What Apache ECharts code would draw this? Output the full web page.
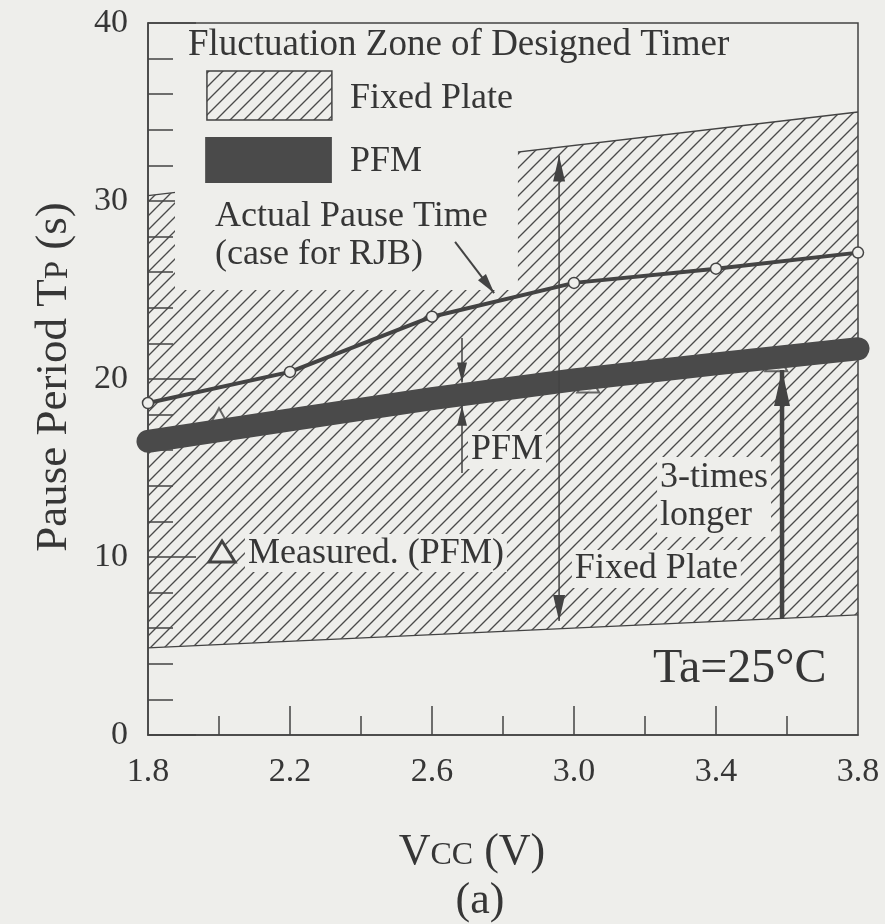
<!DOCTYPE html>
<html>
<head>
<meta charset="utf-8">
<script src="https://cdn.jsdelivr.net/npm/echarts@6/dist/echarts.min.js"></script>
<style>
  html, body { margin: 0; padding: 0; background: #eeeeeb; }
  #chart { width: 885px; height: 924px; }
</style>
</head>
<body>
<div id="chart"></div>
<script>
// Supply voltage points (V) and pause periods (s)
const vccPoints = [1.8, 2.2, 2.6, 3.0, 3.4, 3.8];
const actualPauseTime = [18.65, 20.4, 23.5, 25.4, 26.2, 27.1];
const pfmBand = [16.5, 17.7, 18.9, 19.95, 20.85, 21.7];

// Measured PFM points (triangles)
const measuredVcc = [2.0, 3.04, 3.57];
const measuredPfm = [17.8, 19.8, 21.0];

// Fixed-plate fluctuation zone, lower and upper bounds
const zoneVcc = [1.8, 3.8];
const zoneLower = [4.9, 6.75];
const zoneUpper = [30.3, 35.0];

// Axis ticks
const xLabelTicks = [1.8, 2.2, 2.6, 3.0, 3.4, 3.8];
const xMajorTicks = [2.2, 2.6, 3.0, 3.4];
const xMinorTicks = [2.0, 2.4, 2.8, 3.2, 3.6];

const BG = '#eeeeeb';
const INK = '#434343';
const TEXT = '#363636';
const BAND = '#4a4a4a';
const SERIF = '"Liberation Serif", "Times New Roman", serif';

function hatchCanvas(step, color, width) {
  const c = document.createElement('canvas');
  c.width = step; c.height = step;
  const g = c.getContext('2d');
  g.strokeStyle = color;
  g.lineWidth = width;
  g.beginPath();
  g.moveTo(0, step); g.lineTo(step, 0);
  g.moveTo(-step / 2, step / 2); g.lineTo(step / 2, -step / 2);
  g.moveTo(step / 2, step * 1.5); g.lineTo(step * 1.5, step / 2);
  g.stroke();
  return c;
}
const hatch = hatchCanvas(14, '#4a4a4a', 1.35);
const hatchFill = { image: hatch, repeat: 'repeat' };

const chart = echarts.init(document.getElementById('chart'), null, { renderer: 'canvas' });

const option = {
  backgroundColor: BG,
  animation: false,
  grid: {
    left: 148, right: 27, top: 23, bottom: 189,
    show: true, borderColor: INK, borderWidth: 1.5, backgroundColor: 'transparent'
  },
  xAxis: {
    type: 'value', min: 1.8, max: 3.8,
    axisLine: { show: true, lineStyle: { color: INK, width: 1.5 } },
    axisTick: { show: true, inside: true, length: 29, customValues: xMajorTicks,
                lineStyle: { color: INK, width: 1.5 } },
    axisLabel: { customValues: xLabelTicks, formatter: v => v.toFixed(1),
                 margin: 20, fontSize: 34, fontFamily: SERIF, color: TEXT },
    splitLine: { show: false }
  },
  yAxis: {
    type: 'value', min: 0, max: 40, interval: 10,
    axisLine: { show: true, lineStyle: { color: INK, width: 1.5 } },
    axisTick: { show: true, inside: true, length: 48, lineStyle: { color: INK, width: 1.5 } },
    minorTick: { show: true, splitNumber: 5, length: 25, lineStyle: { color: INK, width: 1.5 } },
    axisLabel: { margin: 20, fontSize: 34, fontFamily: SERIF, color: TEXT },
    splitLine: { show: false }
  },
  series: [
    {
      // hatched fixed-plate zone
      type: 'custom', z: 1, silent: true,
      data: [[zoneVcc[0], zoneLower[0]]],
      encode: { x: 0, y: 1 },
      renderItem: (params, api) => {
        const lower = zoneVcc.map((v, i) => api.coord([v, zoneLower[i]]));
        const upper = zoneVcc.map((v, i) => api.coord([v, zoneUpper[i]]));
        return {
          type: 'group',
          children: [
            { type: 'polygon', shape: { points: lower.concat(upper.slice().reverse()) },
              style: { fill: hatchFill } },
            { type: 'polyline', shape: { points: lower },
              style: { stroke: INK, lineWidth: 1.3, fill: null } },
            { type: 'polyline', shape: { points: upper },
              style: { stroke: INK, lineWidth: 1.3, fill: null } }
          ]
        };
      }
    },
    {
      // clear panel behind the legend
      type: 'custom', z: 2, silent: true,
      data: [[1.876, 40]],
      encode: { x: 0, y: 1 },
      renderItem: (params, api) => {
        const a = api.coord([1.876, 40]);
        const b = api.coord([2.842, 25]);
        return { type: 'rect', shape: { x: a[0], y: a[1] + 1, width: b[0] - a[0], height: b[1] - a[1] - 1 },
                 style: { fill: BG } };
      }
    },
    {
      // short ticks on the Vcc axis
      type: 'custom', z: 6, silent: true,
      data: xMinorTicks.map(v => [v, 0]),
      encode: { x: 0, y: 1 },
      renderItem: (params, api) => {
        const p = api.coord([api.value(0), 0]);
        return { type: 'line', shape: { x1: p[0], y1: p[1], x2: p[0], y2: p[1] - 19 },
                 style: { stroke: INK, lineWidth: 1.5 } };
      }
    },
    {
      name: 'Measured (PFM)', type: 'scatter', z: 3, silent: true,
      data: measuredVcc.map((v, i) => [v, measuredPfm[i]]),
      symbol: 'triangle', symbolSize: [22, 20],
      itemStyle: { color: BG, borderColor: INK, borderWidth: 2 }
    },
    {
      name: 'PFM', type: 'line', z: 4, silent: true, clip: false,
      data: vccPoints.map((v, i) => [v, pfmBand[i]]),
      symbol: 'none',
      lineStyle: { color: BAND, width: 23, cap: 'round', join: 'round' }
    },
    {
      name: 'Actual Pause Time', type: 'line', z: 5, silent: true, clip: false,
      data: vccPoints.map((v, i) => [v, actualPauseTime[i]]),
      symbol: 'circle', symbolSize: 11, showSymbol: true,
      lineStyle: { color: INK, width: 4 },
      itemStyle: { color: BG, borderColor: INK, borderWidth: 1.5 }
    }
  ]
};
chart.setOption(option);

// annotations placed in data space
const P = (v, t) => chart.convertToPixel({ gridIndex: 0 }, [v, t]);

function head(tail, tip, len, half) {
  const dx = tip[0] - tail[0], dy = tip[1] - tail[1];
  const L = Math.hypot(dx, dy), ux = dx / L, uy = dy / L;
  const bx = tip[0] - ux * len, by = tip[1] - uy * len;
  return { type: 'polygon', z: 50, shape: { points: [tip, [bx - uy * half, by + ux * half], [bx + uy * half, by - ux * half]] },
           style: { fill: INK } };
}
function arrow(from, to, width, len, half, both) {
  const a = P(from[0], from[1]), b = P(to[0], to[1]);
  const items = [
    { type: 'line', z: 50, shape: { x1: a[0], y1: a[1], x2: b[0], y2: b[1] }, style: { stroke: INK, lineWidth: width } },
    head(a, b, len, half)
  ];
  if (both) items.push(head(b, a, len, half));
  return items;
}
function label(v, t, text, size, extra) {
  const p = P(v, t);
  return {
    type: 'text', z: 60, x: p[0], y: p[1],
    style: Object.assign({ text: text, fontSize: size, fontFamily: SERIF, fill: TEXT,
                           align: 'left', verticalAlign: 'middle' }, extra || {})
  };
}
const bgLabel = { backgroundColor: BG, padding: [1, 3] };

const lgHatchA = P(1.966, 37.30), lgHatchB = P(2.318, 34.55);
const lgBandA = P(1.961, 33.60), lgBandB = P(2.318, 31.01);
const triC = P(2.0085, 10.28);

const graphics = [
  label(1.9127, 38.76, 'Fluctuation Zone of Designed Timer', 37),
  { type: 'rect', z: 50, shape: { x: lgHatchA[0], y: lgHatchA[1], width: lgHatchB[0] - lgHatchA[0], height: lgHatchB[1] - lgHatchA[1] },
    style: { fill: hatchFill, stroke: INK, lineWidth: 1.5 } },
  { type: 'rect', z: 50, shape: { x: lgBandA[0], y: lgBandA[1], width: lgBandB[0] - lgBandA[0], height: lgBandB[1] - lgBandA[1] },
    style: { fill: BAND } },
  label(2.369, 35.75, 'Fixed Plate', 36),
  label(2.369, 32.2, 'PFM', 36),
  label(1.989, 29.1, 'Actual Pause Time', 36),
  label(1.989, 26.97, '(case for RJB)', 36),
  ...arrow([2.665, 27.70], [2.775, 24.83], 2, 20, 5),
  ...arrow([2.6845, 22.3], [2.6845, 19.8], 1.5, 20, 5),
  ...arrow([2.6845, 14.72], [2.6845, 18.5], 1.5, 20, 5),
  label(2.7014, 16.01, 'PFM', 36, bgLabel),
  ...arrow([2.958, 6.4], [2.958, 32.55], 1.5, 26, 6, true),
  label(2.994, 9.33, 'Fixed Plate', 36, bgLabel),
  { type: 'text', z: 60, x: P(3.234, 15.62)[0], y: P(3.234, 15.62)[1],
    style: { text: '3-times\nlonger', fontSize: 36, fontFamily: SERIF, fill: TEXT, lineHeight: 38,
             align: 'left', verticalAlign: 'top', backgroundColor: BG, padding: [2, 3] } },
  ...arrow([3.586, 6.55], [3.586, 20.5], 4.5, 36, 8),
  { type: 'polygon', z: 60, shape: { points: [[triC[0], triC[1] - 11], [triC[0] - 13, triC[1] + 10], [triC[0] + 13, triC[1] + 10]] },
    style: { fill: BG, stroke: INK, lineWidth: 3 } },
  label(2.073, 10.22, 'Measured. (PFM)', 36, bgLabel),
  label(3.2225, 3.71, 'Ta=25°C', 48),
  {
    type: 'text', z: 60, x: 52, y: 377, rotation: Math.PI / 2,
    style: { text: '{a|Pause Period T}{p|P}{a| (s)}', fill: TEXT, align: 'center', verticalAlign: 'middle',
             rich: { a: { fontSize: 45, fontFamily: SERIF, fill: TEXT, lineHeight: 50, verticalAlign: 'bottom' },
                     p: { fontSize: 33, fontFamily: SERIF, fill: TEXT, lineHeight: 50, verticalAlign: 'bottom', padding: [0, 0, 2, 0] } } }
  },
  {
    type: 'text', z: 60, x: 472, y: 849,
    style: { text: '{v|V}{c|CC}{v| (V)}', fill: TEXT, align: 'center', verticalAlign: 'middle',
             rich: { v: { fontSize: 44, fontFamily: SERIF, fill: TEXT, lineHeight: 50, verticalAlign: 'bottom' },
                     c: { fontSize: 32, fontFamily: SERIF, fill: TEXT, lineHeight: 50, verticalAlign: 'bottom', padding: [0, 0, 2, 0] } } }
  },
  { type: 'text', z: 60, x: 480, y: 901,
    style: { text: '(a)', fontSize: 44, fontFamily: SERIF, fill: TEXT, align: 'center', verticalAlign: 'middle' } }
];
chart.setOption({ graphic: graphics });
</script>
</body>
</html>
